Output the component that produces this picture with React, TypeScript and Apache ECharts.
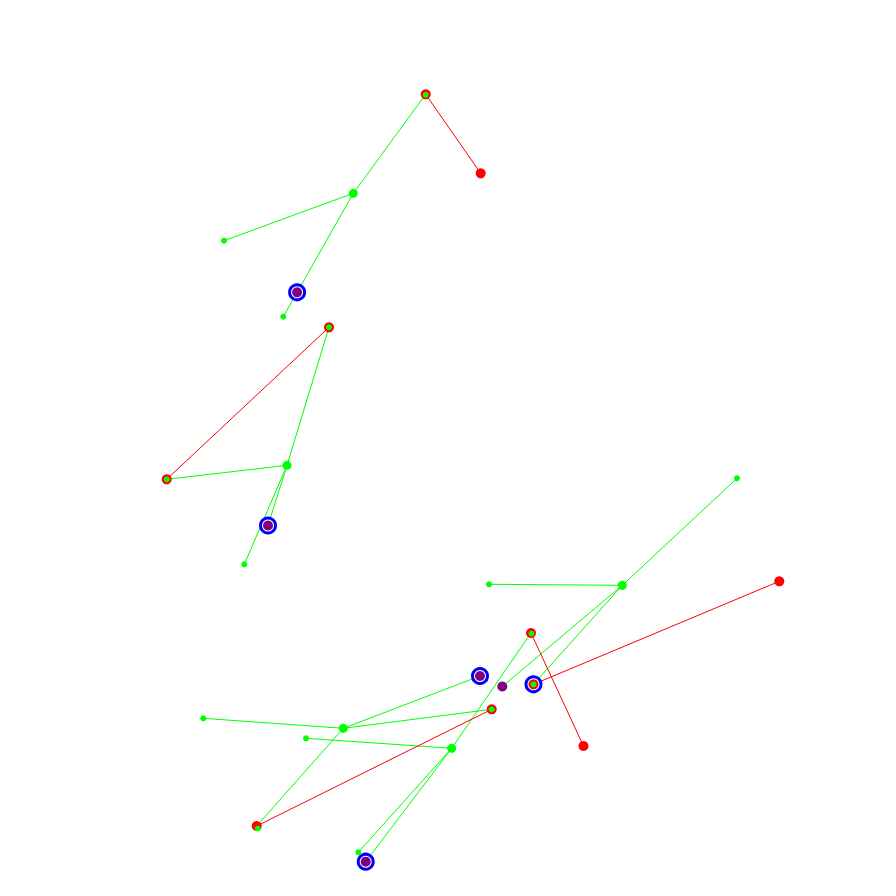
import React, { useEffect, useRef } from 'react';
import * as echarts from 'echarts';

// node positions [name, x, y] (picture pixels, y grows downward)
const redPoints: [string, number, number][] = [
  ['A', 425.7, 94.3], ['B', 480.7, 173.3], ['T', 329, 327.3], ['L', 166.7, 479.3],
  ['RG1', 531, 633], ['RGr', 533.5, 684.3], ['R1', 779.3, 581.3], ['R2', 583.5, 746],
  ['RG3', 491.7, 709.3], ['RG4', 256.7, 826]
];
const bigGreenPoints: [string, number, number][] = [
  ['C', 353.3, 193.3], ['M', 287, 465.3], ['G3', 622.3, 585.3],
  ['G5', 343.3, 728.3], ['G7', 451.7, 748.3]
];
const smallGreenPoints: [string, number, number][] = [
  ['D', 224, 240.7], ['F', 283.3, 316.7], ['F2', 244.3, 564.3], ['G1', 737, 478.3],
  ['G2', 489, 584.3], ['G4', 203.3, 718.3], ['G6', 306, 738.3], ['G8', 358.3, 852.3],
  ['cA', 425.7, 94.8], ['cT', 329, 327.3], ['cL', 166.7, 479.3], ['cRG1', 531.5, 633.5],
  ['cRGr', 533.5, 684.3], ['cRG3', 491.7, 709.3], ['cRG4', 257.7, 828.5]
];
const purplePoints: [string, number, number][] = [
  ['E', 297.1, 292.3], ['E2', 268, 525.5], ['P1', 480, 676], ['P2', 502.3, 686.5], ['P3', 365.7, 861.7]
];
const ringPoints = ['E', 'E2', 'P1', 'RGr', 'P3'];

const greenEdges: [string, string][] = [
  ['A', 'C'], ['C', 'D'], ['C', 'E'], ['E', 'F'],
  ['T', 'M'], ['L', 'M'], ['M', 'E2'], ['M', 'F2'],
  ['RG1', 'G7'], ['G7', 'G6'], ['G7', 'P3'], ['G7', 'G8'],
  ['RGr', 'G3'], ['G3', 'G1'], ['G3', 'G2'], ['G3', 'P2'],
  ['RG4', 'G5'], ['RG3', 'G5'], ['G5', 'G4'], ['G5', 'P1']
];
const redEdges: [string, string][] = [
  ['A', 'B'], ['T', 'L'], ['RG1', 'R2'], ['RGr', 'R1'], ['RG4', 'RG3']
];

const lookup: Record<string, [number, number]> = {};
[...redPoints, ...bigGreenPoints, ...smallGreenPoints, ...purplePoints].forEach(([n, x, y]) => {
  if (!lookup[n]) lookup[n] = [x, y];
});

const toXY = (pts: [string, number, number][]) => pts.map(([, x, y]) => [x, y]);
const toCoords = (edges: [string, string][]) =>
  edges.map(([a, b]) => ({ coords: [lookup[a], lookup[b]] }));

const App: React.FC = () => {
  const chartRef = useRef<HTMLDivElement>(null);

  useEffect(() => {
    document.body.style.margin = '0';
    if (!chartRef.current) return;
    const chart = echarts.init(chartRef.current, undefined, { renderer: 'svg' });

    const scatter = (data: number[][], size: number, color: string, z: number) => ({
      type: 'scatter',
      data,
      symbol: 'circle',
      symbolSize: size,
      itemStyle: { color, opacity: 1 },
      silent: true,
      z
    });

    chart.setOption({
      animation: false,
      backgroundColor: '#ffffff',
      grid: { left: 0, right: 0, top: 0, bottom: 0 },
      xAxis: { type: 'value', min: 0, max: 896, show: false },
      yAxis: { type: 'value', min: 0, max: 896, inverse: true, show: false },
      series: [
        {
          type: 'lines',
          coordinateSystem: 'cartesian2d',
          data: toCoords(greenEdges),
          lineStyle: { color: '#00ff00', width: 1, opacity: 1 },
          silent: true,
          z: 1
        },
        {
          type: 'lines',
          coordinateSystem: 'cartesian2d',
          data: toCoords(redEdges),
          lineStyle: { color: '#ff0000', width: 1, opacity: 1 },
          silent: true,
          z: 1
        },
        {
          type: 'scatter',
          data: ringPoints.map((n) => lookup[n]),
          symbol: 'circle',
          symbolSize: 15,
          itemStyle: { color: '#ffffff', borderColor: '#0000ff', borderWidth: 3, opacity: 1 },
          silent: true,
          z: 2
        },
        scatter(toXY(redPoints), 10, '#ff0000', 3),
        scatter(toXY(purplePoints), 10, '#800080', 4),
        scatter(toXY(bigGreenPoints), 9, '#00ff00', 5),
        scatter(toXY(smallGreenPoints), 6, '#00ff00', 6)
      ]
    });

    return () => {
      chart.dispose();
    };
  }, []);

  return <div ref={chartRef} style={{ width: '896px', height: '896px' }} />;
};

export default App;
